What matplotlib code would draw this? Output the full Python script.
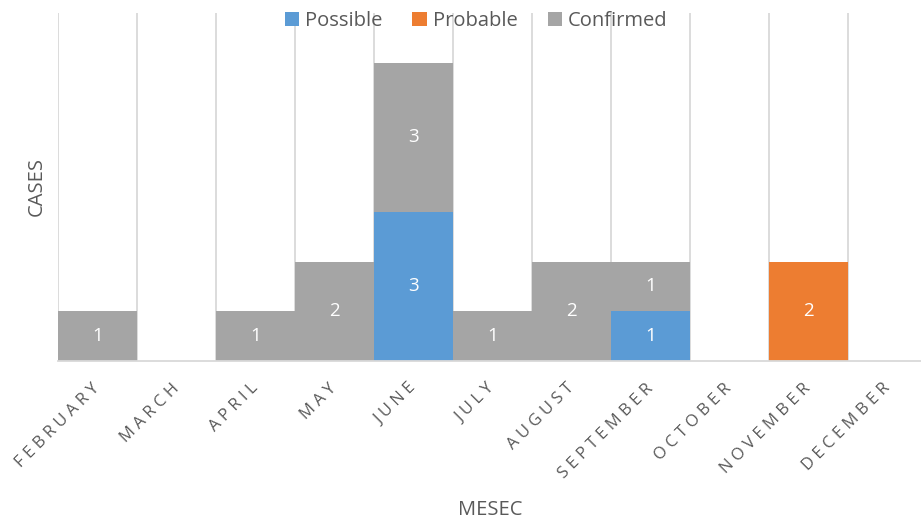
import matplotlib
matplotlib.use("Agg")
import matplotlib.pyplot as plt
import matplotlib.transforms as mtransforms
import numpy as np

plt.rcParams["font.family"] = ["Open Sans", "DejaVu Sans"]

# ── Data ──────────────────────────────────────────────────────────────────────
months = ["FEBRUARY", "MARCH", "APRIL", "MAY", "JUNE", "JULY",
          "AUGUST", "SEPTEMBER", "OCTOBER", "NOVEMBER", "DECEMBER"]
possible  = [0, 0, 0, 0, 3, 0, 0, 1, 0, 0, 0]
probable  = [0, 0, 0, 0, 0, 0, 0, 0, 0, 2, 0]
confirmed = [1, 0, 1, 2, 3, 1, 2, 1, 0, 0, 0]

series = [("Possible", possible, "#5B9BD5"),
          ("Probable", probable, "#ED7D31"),
          ("Confirmed", confirmed, "#A5A5A5")]

TEXT = "#595959"
GRID = "#D9D9D9"

fig = plt.figure(figsize=(9.21, 5.21), dpi=100)
# plot area: x 58..927 px (right edge just off the canvas), y 13..361 px
ax = fig.add_axes([58 / 921, 1 - 361 / 521, 869 / 921, (361 - 13) / 521])

x = np.arange(len(months))
bottom = np.zeros(len(months))
for name, vals, color in series:
    vals = np.array(vals, dtype=float)
    ax.bar(x, vals, width=1.0, bottom=bottom, color=color, label=name, zorder=2)
    for xi, v, b in zip(x, vals, bottom):
        if v > 0:
            ax.text(xi, b + v / 2, f"{int(v)}", ha="center", va="center",
                    color="white", fontsize=13.5, zorder=3)
    bottom += vals

# vertical gridlines at category boundaries
for b in np.arange(-0.5, len(months) + 0.5, 1.0):
    ax.axvline(b, color=GRID, lw=1.3, zorder=1)

ax.set_xlim(-0.5, len(months) - 0.5)
ax.set_ylim(0, 7)
ax.set_yticks([])
ax.set_xticks([])
for s in ["top", "right", "left"]:
    ax.spines[s].set_visible(False)
ax.spines["bottom"].set_color(GRID)
ax.spines["bottom"].set_linewidth(1.3)
ax.spines["bottom"].set_zorder(4)

# rotated, letter-spaced month labels
offset = mtransforms.ScaledTranslation(0 / 100, -25 / 100, fig.dpi_scale_trans)
for xi, m in zip(x, months):
    ax.text(xi, 0, "\u2009\u200a".join(m), rotation=45, rotation_mode="anchor",
            ha="right", va="center", fontsize=12, color=TEXT,
            transform=ax.get_xaxis_transform() + offset)

fig.text(490 / 921, 1 - 510 / 521, "MESEC", ha="center", va="center",
         fontsize=14.5, color=TEXT)
fig.text(37 / 921, 1 - 187 / 521, "CASES", ha="center", va="center",
         rotation=90, fontsize=14.5, color=TEXT)

leg = fig.legend(loc="center", bbox_to_anchor=(476 / 921, 1 - 21 / 521), ncol=3,
                 frameon=False, fontsize=14.5, handlelength=0.7, handleheight=0.7,
                 handletextpad=0.3, columnspacing=1.5, borderaxespad=0)
for t in leg.get_texts():
    t.set_color(TEXT)

plt.savefig("out.png", dpi=100)
